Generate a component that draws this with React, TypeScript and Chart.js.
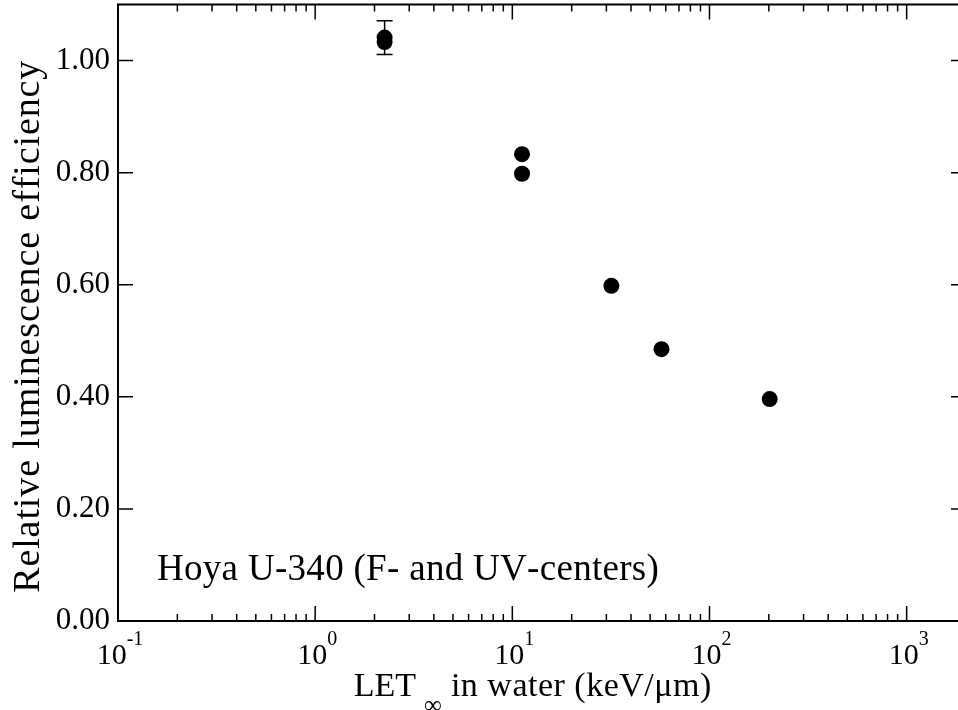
import React, { useEffect, useRef } from 'react';
import { Chart, registerables } from 'chart.js';

Chart.register(...registerables);

const FONT = '"Liberation Serif", "Times New Roman", serif';

// Measured points: LET (keV/µm) against relative luminescence efficiency
const letValues = [2.25, 2.25, 11.2, 11.2, 31.8, 57.1, 202];
const efficiency = [1.041, 1.033, 0.833, 0.798, 0.598, 0.485, 0.396];
const efficiencyError = [0.03, 0, 0, 0, 0, 0, 0];

// Axis ranges and ticks
const xMin = 0.1;
const xMax = 2000;
const yMin = 0;
const yMax = 1.1;
const xDecades = [0.1, 1, 10, 100, 1000];
const xExponents = ['-1', '0', '1', '2', '3'];
const yTickValues = [0, 0.2, 0.4, 0.6, 0.8, 1.0];

const xTitleMain = 'LET';
const xTitleSub = '\u221E';
const xTitleRest = ' in water (keV/\u03BCm)';
const yTitle = 'Relative luminescence efficiency';
const annotation = 'Hoya U-340 (F- and UV-centers)';

const CANVAS_W = 980;
const CANVAS_H = 710;

// Text helpers with a little extra tracking between glyphs.
function spacedWidth(ctx: CanvasRenderingContext2D, text: string, spacing: number) {
  let w = 0;
  for (const ch of text) w += ctx.measureText(ch).width + spacing;
  return w - spacing;
}

function drawSpaced(
  ctx: CanvasRenderingContext2D,
  text: string,
  x: number,
  y: number,
  spacing: number
) {
  let cx = x;
  for (const ch of text) {
    ctx.fillText(ch, cx, y);
    cx += ctx.measureText(ch).width + spacing;
  }
  return cx - spacing - x;
}

const axesPlugin = {
  id: 'xmgrAxes',
  beforeDatasetsDraw(chart: any) {
    const { ctx, scales } = chart;
    const x = scales.x;
    const y = scales.y;
    ctx.save();
    ctx.strokeStyle = '#000';
    ctx.lineWidth = 1.5;
    letValues.forEach((v, i) => {
      const e = efficiencyError[i];
      if (!e) return;
      const px = x.getPixelForValue(v);
      const pTop = y.getPixelForValue(efficiency[i] + e);
      const pBot = y.getPixelForValue(efficiency[i] - e);
      ctx.beginPath();
      ctx.moveTo(px, pTop);
      ctx.lineTo(px, pBot);
      ctx.moveTo(px - 8, pTop);
      ctx.lineTo(px + 8, pTop);
      ctx.moveTo(px - 8, pBot);
      ctx.lineTo(px + 8, pBot);
      ctx.stroke();
    });
    ctx.restore();
  },
  afterDraw(chart: any) {
    const { ctx, chartArea, scales } = chart;
    const x = scales.x;
    const y = scales.y;
    const { left, right, top, bottom } = chartArea;
    const major = 15;
    const minor = 7;

    ctx.save();
    ctx.strokeStyle = '#000';
    ctx.lineWidth = 2;
    ctx.strokeRect(left, top, right - left, bottom - top);

    ctx.lineWidth = 1.5;
    ctx.beginPath();
    // x ticks, pointing inward on bottom and top
    xDecades.forEach((d) => {
      for (let m = 1; m <= 9; m++) {
        const v = d * m;
        if (v < xMin || v > xMax) continue;
        const px = x.getPixelForValue(v);
        const len = m === 1 ? major : minor;
        ctx.moveTo(px, bottom);
        ctx.lineTo(px, bottom - len);
        ctx.moveTo(px, top);
        ctx.lineTo(px, top + len);
      }
    });
    // y ticks, pointing inward on left and right
    yTickValues.forEach((v) => {
      const py = y.getPixelForValue(v);
      ctx.moveTo(left, py);
      ctx.lineTo(left + major, py);
      ctx.moveTo(right, py);
      ctx.lineTo(right - major, py);
    });
    ctx.stroke();

    ctx.fillStyle = '#000';
    ctx.textBaseline = 'alphabetic';
    ctx.textAlign = 'left';

    // x tick labels as 10 with raised exponent
    const baseFont = `30px ${FONT}`;
    const supFont = `20px ${FONT}`;
    xDecades.forEach((d, i) => {
      const px = x.getPixelForValue(d);
      ctx.font = baseFont;
      const wBase = ctx.measureText('10').width;
      ctx.font = supFont;
      const wSup = ctx.measureText(xExponents[i]).width;
      const start = px - (wBase + wSup) / 2 + 2;
      ctx.font = baseFont;
      ctx.fillText('10', start, bottom + 43);
      ctx.font = supFont;
      ctx.fillText(xExponents[i], start + wBase, bottom + 24);
    });

    // x axis title with subscript infinity
    const mainFont = `34px ${FONT}`;
    const subFont = `25px ${FONT}`;
    const restSpacing = 0.5;
    ctx.font = mainFont;
    const wMain = ctx.measureText(xTitleMain).width;
    const wRest = spacedWidth(ctx, xTitleRest, restSpacing);
    ctx.font = subFont;
    const wSub = ctx.measureText(xTitleSub).width;
    const total = wMain + 8 + wSub + wRest;
    let tx = (left + right) / 2 - 9.5 - total / 2;
    ctx.font = mainFont;
    ctx.fillText(xTitleMain, tx, bottom + 75);
    tx += wMain + 8;
    ctx.font = subFont;
    ctx.fillText(xTitleSub, tx, bottom + 92);
    tx += wSub;
    ctx.font = mainFont;
    drawSpaced(ctx, xTitleRest, tx, bottom + 75, restSpacing);

    // y axis title
    ctx.save();
    ctx.font = `38px ${FONT}`;
    const ySpacing = 0.9;
    const wy = spacedWidth(ctx, yTitle, ySpacing);
    ctx.translate(39, (top + bottom) / 2 + 14);
    ctx.rotate(-Math.PI / 2);
    drawSpaced(ctx, yTitle, -wy / 2, 0, ySpacing);
    ctx.restore();

    // label inside the plot
    ctx.font = `37px ${FONT}`;
    drawSpaced(ctx, annotation, left + 39, bottom - 41, 0.3);

    ctx.restore();
  },
};

export default function App() {
  const canvasRef = useRef<HTMLCanvasElement | null>(null);

  useEffect(() => {
    const canvas = canvasRef.current;
    if (!canvas) return;
    const chart = new Chart(canvas, {
      type: 'scatter',
      data: {
        datasets: [
          {
            data: letValues.map((v, i) => ({ x: v, y: efficiency[i] })),
            backgroundColor: '#000',
            borderColor: '#000',
            pointRadius: 8,
            pointHoverRadius: 8,
            borderWidth: 0,
          },
        ],
      },
      options: {
        animation: false,
        responsive: false,
        devicePixelRatio: 1,
        events: [],
        layout: {
          autoPadding: false,
          padding: { left: 0, top: 4.5, right: CANVAS_W - 966, bottom: 0 },
        },
        plugins: {
          legend: { display: false },
          tooltip: { enabled: false },
          title: { display: false },
        },
        scales: {
          x: {
            type: 'logarithmic',
            min: xMin,
            max: xMax,
            grid: { display: false, drawTicks: false },
            border: { display: false },
            ticks: { display: false },
            afterFit(scale: any) {
              scale.height = 89;
              scale.paddingLeft = 0;
              scale.paddingRight = 0;
            },
          },
          y: {
            type: 'linear',
            min: yMin,
            max: yMax,
            grid: { display: false, drawTicks: false },
            border: { display: false },
            afterBuildTicks(scale: any) {
              scale.ticks = yTickValues.map((v) => ({ value: v }));
            },
            ticks: {
              color: '#000',
              padding: 8,
              font: { family: FONT, size: 31 },
              callback: (v: any) => Number(v).toFixed(2),
            },
            afterFit(scale: any) {
              scale.width = 118;
              scale.paddingTop = 0;
              scale.paddingBottom = 0;
            },
          },
        },
      },
      plugins: [axesPlugin],
    });
    return () => chart.destroy();
  }, []);

  return (
    <div
      style={{
        position: 'fixed',
        left: 0,
        top: 0,
        width: 958,
        height: 710,
        overflow: 'hidden',
        background: '#fff',
      }}
    >
      <canvas ref={canvasRef} width={CANVAS_W} height={CANVAS_H} style={{ display: 'block' }} />
    </div>
  );
}
